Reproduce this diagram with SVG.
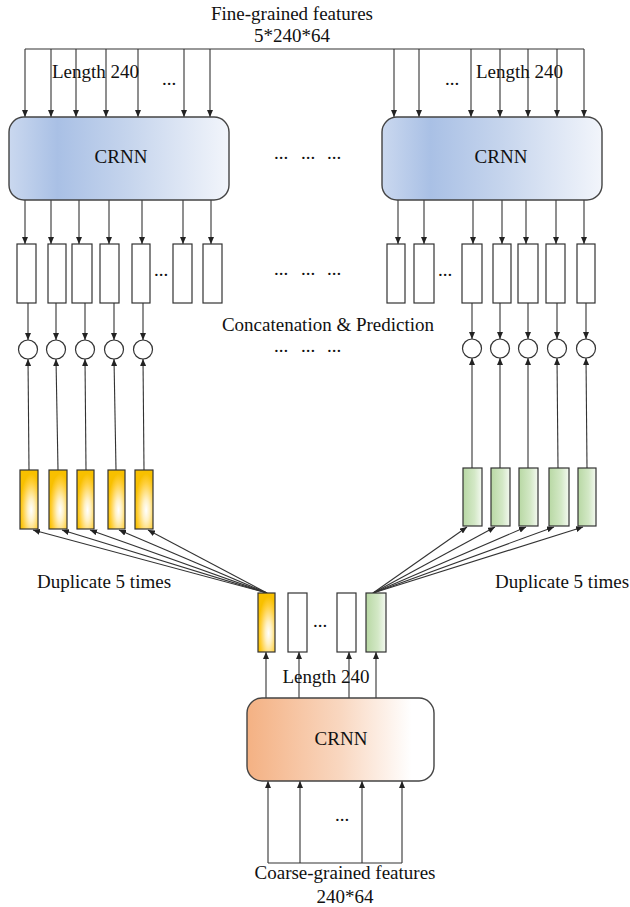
<svg xmlns="http://www.w3.org/2000/svg" width="630" height="907" viewBox="0 0 630 907">
  <defs>
    <linearGradient id="gBlue" x1="0" y1="0" x2="1" y2="0">
      <stop offset="0" stop-color="#cad8ef"/>
      <stop offset="0.22" stop-color="#a9c0e5"/>
      <stop offset="0.55" stop-color="#c6d5ed"/>
      <stop offset="1" stop-color="#f2f5fb"/>
    </linearGradient>
    <linearGradient id="gOrange" x1="0" y1="0" x2="1" y2="0">
      <stop offset="0" stop-color="#f4b183"/>
      <stop offset="0.5" stop-color="#f9d7c0"/>
      <stop offset="0.88" stop-color="#ffffff"/>
      <stop offset="1" stop-color="#ffffff"/>
    </linearGradient>
    <radialGradient id="gGold" cx="0.62" cy="0.68" r="0.62">
      <stop offset="0" stop-color="#ffffff"/>
      <stop offset="0.3" stop-color="#fff1c4"/>
      <stop offset="0.75" stop-color="#ffcf3a"/>
      <stop offset="1" stop-color="#f8c000"/>
    </radialGradient>
    <linearGradient id="gGreen" x1="0" y1="0" x2="1" y2="0">
      <stop offset="0" stop-color="#b8d8a4"/>
      <stop offset="0.6" stop-color="#d3e8c6"/>
      <stop offset="1" stop-color="#f4f9f1"/>
    </linearGradient>
    <marker id="arr" viewBox="0 0 7 6" refX="7" refY="3" markerWidth="7" markerHeight="6" markerUnits="userSpaceOnUse" orient="auto">
      <path d="M0,0 L7,3 L0,6 z" fill="#222"/>
    </marker>
  </defs>
  <style>
    text { font-family: "Liberation Serif", "Times New Roman", serif; font-size: 19px; fill: #111; }
    .mid { text-anchor: middle; }
    .box { stroke: #444; stroke-width: 1.4; }
    .cell { fill: #fff; stroke: #333; stroke-width: 1.2; }
    .bar { stroke: #333; stroke-width: 1.2; }
    .dot { fill: #fff; stroke: #333; stroke-width: 1.2; }
    .c line, .c path { stroke: #333; stroke-width: 1.1; fill: none; }
    .a { marker-end: url(#arr); }
  </style>

  <rect width="630" height="907" fill="#fff"/>

  <!-- connectors -->
  <g id="connectors" class="c">
    <!-- fine-grained input bus -->
    <line x1="25" y1="49" x2="584" y2="49"/>
    <line class="a" x1="25" y1="49" x2="25" y2="117"/>
    <line class="a" x1="51" y1="49" x2="51" y2="117"/>
    <line class="a" x1="76" y1="49" x2="76" y2="117"/>
    <line class="a" x1="106" y1="49" x2="106" y2="117"/>
    <line class="a" x1="138" y1="49" x2="138" y2="117"/>
    <line class="a" x1="184" y1="49" x2="184" y2="117"/>
    <line class="a" x1="210" y1="49" x2="210" y2="117"/>
    <line class="a" x1="394" y1="49" x2="394" y2="117"/>
    <line class="a" x1="419" y1="49" x2="419" y2="117"/>
    <line class="a" x1="471" y1="49" x2="471" y2="117"/>
    <line class="a" x1="500" y1="49" x2="500" y2="117"/>
    <line class="a" x1="528" y1="49" x2="528" y2="117"/>
    <line class="a" x1="557" y1="49" x2="557" y2="117"/>
    <line class="a" x1="584" y1="49" x2="584" y2="117"/>

    <!-- CRNN outputs to cells -->
    <line class="a" x1="25" y1="200" x2="25" y2="244"/>
    <line class="a" x1="51" y1="200" x2="51" y2="244"/>
    <line class="a" x1="79" y1="200" x2="79" y2="244"/>
    <line class="a" x1="109" y1="200" x2="109" y2="244"/>
    <line class="a" x1="142" y1="200" x2="142" y2="244"/>
    <line class="a" x1="183" y1="200" x2="183" y2="244"/>
    <line class="a" x1="211" y1="200" x2="211" y2="244"/>
    <line class="a" x1="398" y1="200" x2="398" y2="244"/>
    <line class="a" x1="424" y1="200" x2="424" y2="244"/>
    <line class="a" x1="473" y1="200" x2="473" y2="244"/>
    <line class="a" x1="502" y1="200" x2="502" y2="244"/>
    <line class="a" x1="526" y1="200" x2="526" y2="244"/>
    <line class="a" x1="556" y1="200" x2="556" y2="244"/>
    <line class="a" x1="584" y1="200" x2="584" y2="244"/>

    <!-- cells to prediction nodes -->
    <line class="a" x1="28" y1="303" x2="28" y2="340"/>
    <line class="a" x1="56" y1="303" x2="56" y2="340"/>
    <line class="a" x1="85" y1="303" x2="85" y2="340"/>
    <line class="a" x1="114" y1="303" x2="114" y2="340"/>
    <line class="a" x1="143" y1="303" x2="143" y2="340"/>
    <line class="a" x1="472" y1="303" x2="472" y2="339"/>
    <line class="a" x1="500" y1="303" x2="500" y2="339"/>
    <line class="a" x1="528" y1="303" x2="528" y2="339"/>
    <line class="a" x1="557" y1="303" x2="557" y2="339"/>
    <line class="a" x1="586" y1="303" x2="586" y2="339"/>

    <!-- coarse vectors up to prediction nodes -->
    <line class="a" x1="29" y1="470" x2="28" y2="359"/>
    <line class="a" x1="58" y1="470" x2="56" y2="359"/>
    <line class="a" x1="86" y1="470" x2="85" y2="359"/>
    <line class="a" x1="116" y1="470" x2="114" y2="359"/>
    <line class="a" x1="144" y1="470" x2="143" y2="359"/>
    <line class="a" x1="472" y1="468" x2="472" y2="358"/>
    <line class="a" x1="500" y1="468" x2="500" y2="358"/>
    <line class="a" x1="528" y1="468" x2="528" y2="358"/>
    <line class="a" x1="558" y1="468" x2="557" y2="358"/>
    <line class="a" x1="587" y1="468" x2="586" y2="358"/>

    <!-- duplication fans -->
    <line class="a" x1="267" y1="593" x2="33" y2="530"/>
    <line class="a" x1="267" y1="593" x2="62" y2="530"/>
    <line class="a" x1="267" y1="593" x2="90" y2="530"/>
    <line class="a" x1="267" y1="593" x2="119" y2="530"/>
    <line class="a" x1="267" y1="593" x2="148" y2="530"/>
    <line class="a" x1="373" y1="593" x2="467" y2="527"/>
    <line class="a" x1="373" y1="593" x2="495" y2="527"/>
    <line class="a" x1="373" y1="593" x2="526" y2="527"/>
    <line class="a" x1="373" y1="593" x2="554" y2="527"/>
    <line class="a" x1="373" y1="593" x2="583" y2="527"/>

    <!-- coarse CRNN outputs -->
    <line class="a" x1="266" y1="698" x2="266" y2="652"/>
    <line class="a" x1="299" y1="698" x2="299" y2="652"/>
    <line class="a" x1="349" y1="698" x2="349" y2="652"/>
    <line class="a" x1="376" y1="698" x2="376" y2="652"/>

    <!-- coarse-grained input bus -->
    <line x1="268" y1="863" x2="402" y2="863"/>
    <line class="a" x1="268" y1="863" x2="268" y2="781"/>
    <line class="a" x1="300" y1="863" x2="300" y2="781"/>
    <line class="a" x1="362" y1="863" x2="362" y2="781"/>
    <line class="a" x1="402" y1="863" x2="402" y2="781"/>
  </g>

  <!-- labels -->
  <g id="labels">
    <text class="mid" x="292" y="20">Fine-grained features</text>
    <text class="mid" x="292" y="42">5*240*64</text>
    <text x="52" y="78">Length 240</text>
    <text x="476" y="78">Length 240</text>
    <text x="162" y="85">...</text>
    <text x="445" y="85">...</text>
    <text><tspan x="274" y="159">...</tspan><tspan x="301" y="159">...</tspan><tspan x="327" y="159">...</tspan></text>
    <text><tspan x="274" y="275">...</tspan><tspan x="301" y="275">...</tspan><tspan x="327" y="275">...</tspan></text>
    <text><tspan x="274" y="352">...</tspan><tspan x="301" y="352">...</tspan><tspan x="327" y="352">...</tspan></text>
    <text x="154" y="276">...</text>
    <text x="438" y="276">...</text>
    <text class="mid" x="328" y="331">Concatenation &amp; Prediction</text>
    <text x="37" y="588">Duplicate 5 times</text>
    <text x="495" y="588">Duplicate 5 times</text>
    <text x="313" y="627">...</text>
    <text class="mid" x="326" y="683">Length 240</text>
    <text x="335" y="821">...</text>
    <text class="mid" x="345" y="879">Coarse-grained features</text>
    <text class="mid" x="345" y="903">240*64</text>
  </g>

  <!-- fine-grained CRNN, left -->
  <g id="crnn-fine-left">
    <rect class="box" x="9" y="117" width="220" height="83" rx="15" fill="url(#gBlue)"/>
    <text class="mid" x="121" y="163">CRNN</text>
  </g>

  <!-- fine-grained CRNN, right -->
  <g id="crnn-fine-right">
    <rect class="box" x="382" y="117" width="220" height="83" rx="15" fill="url(#gBlue)"/>
    <text class="mid" x="501" y="163">CRNN</text>
  </g>

  <!-- coarse-grained CRNN -->
  <g id="crnn-coarse">
    <rect class="box" x="247" y="698" width="187" height="83" rx="15" fill="url(#gOrange)"/>
    <text class="mid" x="341" y="745">CRNN</text>
  </g>

  <!-- fine output cells, left -->
  <g id="cells-left">
    <rect class="cell" x="17" y="244" width="19" height="59"/>
    <rect class="cell" x="48" y="244" width="18" height="59"/>
    <rect class="cell" x="72" y="244" width="20" height="59"/>
    <rect class="cell" x="100" y="244" width="19" height="59"/>
    <rect class="cell" x="132" y="244" width="18" height="59"/>
    <rect class="cell" x="173" y="244" width="19" height="59"/>
    <rect class="cell" x="203" y="244" width="19" height="59"/>
  </g>

  <!-- fine output cells, right -->
  <g id="cells-right">
    <rect class="cell" x="387" y="244" width="18" height="59"/>
    <rect class="cell" x="414" y="244" width="20" height="59"/>
    <rect class="cell" x="462" y="244" width="20" height="59"/>
    <rect class="cell" x="493" y="244" width="18" height="59"/>
    <rect class="cell" x="518" y="244" width="20" height="59"/>
    <rect class="cell" x="546" y="244" width="19" height="59"/>
    <rect class="cell" x="577" y="244" width="18" height="59"/>
  </g>

  <!-- prediction nodes -->
  <g id="predictions-left">
    <circle class="dot" cx="28" cy="349.5" r="9.5"/>
    <circle class="dot" cx="56" cy="349.5" r="9.5"/>
    <circle class="dot" cx="85" cy="349.5" r="9.5"/>
    <circle class="dot" cx="114" cy="349.5" r="9.5"/>
    <circle class="dot" cx="143" cy="349.5" r="9.5"/>
  </g>
  <g id="predictions-right">
    <circle class="dot" cx="472" cy="348.5" r="9.5"/>
    <circle class="dot" cx="500" cy="348.5" r="9.5"/>
    <circle class="dot" cx="528" cy="348.5" r="9.5"/>
    <circle class="dot" cx="557" cy="348.5" r="9.5"/>
    <circle class="dot" cx="586" cy="348.5" r="9.5"/>
  </g>

  <!-- duplicated coarse vectors -->
  <g id="dup-left">
    <rect class="bar" x="20" y="470" width="18" height="59" fill="url(#gGold)"/>
    <rect class="bar" x="49" y="470" width="18" height="59" fill="url(#gGold)"/>
    <rect class="bar" x="77" y="470" width="17" height="59" fill="url(#gGold)"/>
    <rect class="bar" x="108" y="470" width="17" height="59" fill="url(#gGold)"/>
    <rect class="bar" x="135" y="470" width="18" height="59" fill="url(#gGold)"/>
  </g>
  <g id="dup-right">
    <rect class="bar" x="463" y="468" width="19" height="58" fill="url(#gGreen)"/>
    <rect class="bar" x="491" y="468" width="19" height="58" fill="url(#gGreen)"/>
    <rect class="bar" x="519" y="468" width="19" height="58" fill="url(#gGreen)"/>
    <rect class="bar" x="549" y="468" width="20" height="58" fill="url(#gGreen)"/>
    <rect class="bar" x="578" y="468" width="18" height="58" fill="url(#gGreen)"/>
  </g>

  <!-- coarse output vectors -->
  <g id="coarse-outputs">
    <rect class="bar" x="258" y="593" width="17" height="59" fill="url(#gGold)"/>
    <rect class="cell" x="288" y="593" width="19" height="59"/>
    <rect class="cell" x="337" y="593" width="19" height="59"/>
    <rect class="bar" x="366" y="593" width="20" height="59" fill="url(#gGreen)"/>
  </g>
</svg>
